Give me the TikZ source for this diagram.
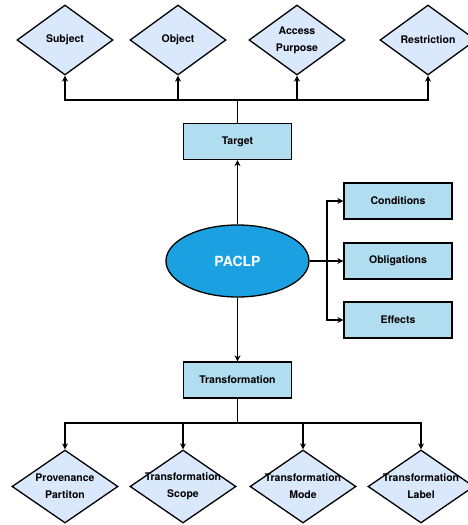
\documentclass[tikz,border=0pt]{standalone}
\usepackage{fontspec}
\setmainfont{TeX Gyre Heros}
\usetikzlibrary{shapes.geometric,arrows.meta}
\definecolor{diafill}{HTML}{DAE8FC}
\definecolor{boxfill}{HTML}{B1DDF0}
\definecolor{mainfill}{HTML}{1BA1E2}
\tikzset{
  attr/.style={diamond,draw,line width=1.3pt,fill=diafill,inner sep=-3pt,aspect=1.4,align=center,font=\bfseries\fontsize{10.5}{17}\selectfont},
  part/.style={rectangle,draw,line width=1.3pt,fill=boxfill,minimum width=108pt,minimum height=36pt,font=\bfseries\fontsize{10.5}{12}\selectfont},
  link/.style={line width=1.3pt,-{Stealth[length=6pt,width=6pt]}}
}

\begin{document}
\begin{tikzpicture}[x=1pt,y=-1pt]
  \useasboundingbox (0,0) rectangle (468,525);
  % centre
  \node[ellipse,draw,line width=1.3pt,fill=mainfill,minimum width=143pt,minimum height=72pt,text=white,font=\bfseries\fontsize{14}{16}\selectfont] (paclp) at (237.5,261) {PACLP};
  \node[part] (target) at (237.5,141.5) {Target};
  \node[part] (transf) at (237.5,380) {Transformation};
  \node[part] (cond) at (398,201) {Conditions};
  \node[part] (oblig) at (398,261) {Obligations};
  \node[part] (effect) at (398,320) {Effects};
  % top diamonds
  \node[attr,minimum width=96pt,minimum height=70pt] (subj) at (65,40) {Subject};
  \node[attr,minimum width=96pt,minimum height=70pt] (obj) at (178,40) {Object};
  \node[attr,minimum width=96pt,minimum height=70pt] (purp) at (297,40) {Access\\Purpose};
  \node[attr,minimum width=96pt,minimum height=70pt] (restr) at (428,40) {Restriction};
  % bottom diamonds
  \node[attr,minimum width=106pt,minimum height=73pt] (prov) at (65,486.5) {Provenance\\Partiton};
  \node[attr,minimum width=106pt,minimum height=73pt] (scope) at (183,486.5) {Transformation\\Scope};
  \node[attr,minimum width=106pt,minimum height=73pt] (mode) at (303,486.5) {Transformation\\Mode};
  \node[attr,minimum width=106pt,minimum height=73pt] (label) at (421,486.5) {Transformation\\Label};
  % junctions
  \coordinate (topbar) at (237.5,100);
  \coordinate (rbranch) at (327,261);
  \coordinate (botbar) at (237.5,423);
  % connectors
  \draw[link] (paclp) -- (target);
  \draw[link] (paclp) -- (transf);
  \foreach \n in {subj,obj,purp,restr} \draw[link] (target.north) -- (topbar) -| (\n.south);
  \foreach \n in {prov,scope,mode,label} \draw[link] (transf.south) -- (botbar) -| (\n.north);
  \foreach \n in {cond,oblig,effect} \draw[link] (paclp.east) -- (rbranch) |- (\n.west);
\end{tikzpicture}
\end{document}
